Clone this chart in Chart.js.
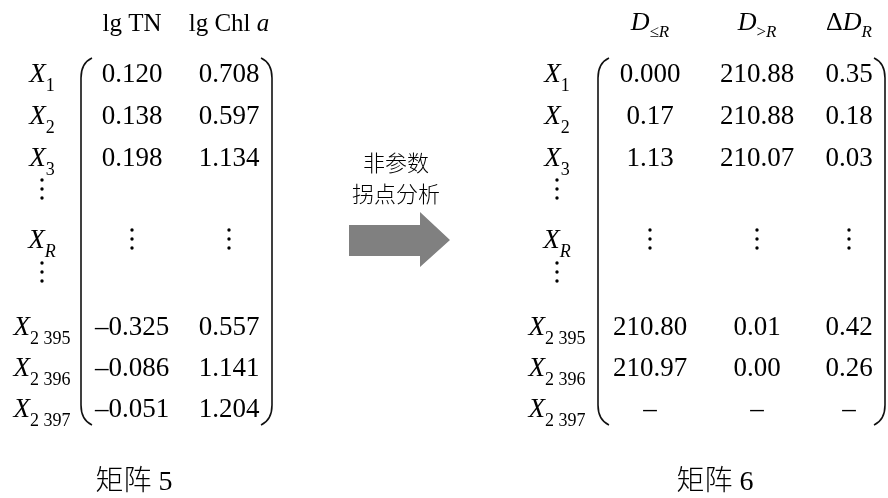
<!DOCTYPE html>
<html>
<head>
<meta charset="utf-8">
<script src="https://cdn.jsdelivr.net/npm/chart.js@4.4.0/dist/chart.umd.min.js"></script>
<style>
  html, body { margin: 0; padding: 0; background: #fff; }
  #wrap { width: 888px; height: 498px; }
</style>
</head>
<body>
<div id="wrap"><canvas id="matrix"></canvas></div>
<script>
// --- data (text between $..$ is italic, text after "_" is a subscript) ---
const rowLabels = ["$X$_1", "$X$_2", "$X$_3", "⋮", "$X$_$R$", "⋮", "$X$_2 395", "$X$_2 396", "$X$_2 397"];

const m5Headers = ["lg TN", "lg Chl $a$"];
const lgTN   = ["0.120", "0.138", "0.198", "", "⋮", "", "–0.325", "–0.086", "–0.051"];
const lgChla = ["0.708", "0.597", "1.134", "", "⋮", "", "0.557", "1.141", "1.204"];

const m6Headers = ["$D$_≤$R$", "$D$_>$R$", "Δ$D$_$R$"];
const dLeR   = ["0.000", "0.17", "1.13", "", "⋮", "", "210.80", "210.97", "–"];
const dGtR   = ["210.88", "210.88", "210.07", "", "⋮", "", "0.01", "0.00", "–"];
const deltaD = ["0.35", "0.18", "0.03", "", "⋮", "", "0.42", "0.26", "–"];

const arrowText = ["非参数", "拐点分析"];
const captions = ["矩阵 5", "矩阵 6"];

// --- layout (in canvas units, used through the chart scales) ---
const rowY = [73, 115, 157, 189, 239, 272, 326, 367, 408];
const m5 = { labelX: 42, cols: [132, 229], left: 81, right: 272, headY: 22 };
const m6 = { labelX: 557, cols: [650, 757, 849], left: 598, right: 885, headY: 21 };
const parenTop = 58, parenBottom = 425;
const arrowY = [164, 195];
const arrowX = 396;
const captionY = 480;
const captionX = [134, 715];

const SERIF = '"Liberation Serif", "Times New Roman", serif';
const CJK = '"Noto Sans CJK SC", sans-serif';
const MIXED = '"Liberation Serif", "Noto Sans CJK SC", serif';

const styles = {
    num:     { size: 27, font: SERIF },
    label:   { size: 27, sub: 18, subDy: 9, font: SERIF },
    head5:   { size: 25, sub: 17, subDy: 7, font: SERIF },
    head6:   { size: 26, sub: 17, subDy: 7, font: SERIF },
    cjk:     { size: 22, weight: 300, font: CJK },
    caption: { size: 28, weight: 300, font: MIXED }
};

function parseRuns(markup) {
    const i = markup.indexOf("_");
    const parts = i < 0 ? [markup] : [markup.slice(0, i), markup.slice(i + 1)];
    const runs = [];
    parts.forEach((p, k) => {
        p.split("$").forEach((t, j) => {
            if (t) runs.push({ t, italic: j % 2 === 1, sub: k === 1 });
        });
    });
    return runs;
}

function runFont(st, r) {
    const size = r.sub ? st.sub : st.size;
    return (r.italic ? "italic " : "") + (st.weight || 400) + " " + size + "px " + st.font;
}

function drawVdots(ctx, x, y) {
    ctx.beginPath();
    [-9, 0, 9].forEach(d => {
        ctx.moveTo(x + 1.7, y + d);
        ctx.arc(x, y + d, 1.7, 0, Math.PI * 2);
    });
    ctx.fill();
}

function drawRich(ctx, markup, cx, cy, st) {
    if (!markup) return;
    if (markup === "⋮") return drawVdots(ctx, cx, cy);
    const runs = parseRuns(markup);
    let total = 0;
    runs.forEach(r => {
        ctx.font = runFont(st, r);
        r.w = ctx.measureText(r.t).width;
        total += r.w;
    });
    const base = cy + 0.34 * st.size;
    let x = cx - total / 2;
    ctx.textAlign = "left";
    ctx.textBaseline = "alphabetic";
    runs.forEach(r => {
        ctx.font = runFont(st, r);
        ctx.fillText(r.t, x, base + (r.sub ? st.subDy : 0));
        x += r.w;
    });
}

function column(texts, x, kind) {
    return {
        kind,
        data: texts.map((t, i) => ({ x, y: rowY[i], t })),
        pointRadius: 0,
        showLine: false
    };
}

function row(texts, xs, y, kind) {
    return {
        kind,
        data: texts.map((t, i) => ({ x: xs[i], y, t })),
        pointRadius: 0,
        showLine: false
    };
}

const datasets = [
    column(rowLabels, m5.labelX, "label"),
    column(rowLabels, m6.labelX, "label"),
    column(lgTN, m5.cols[0], "num"),
    column(lgChla, m5.cols[1], "num"),
    column(dLeR, m6.cols[0], "num"),
    column(dGtR, m6.cols[1], "num"),
    column(deltaD, m6.cols[2], "num"),
    row(m5Headers, m5.cols, m5.headY, "head5"),
    row(m6Headers, m6.cols, m6.headY, "head6"),
    {
        kind: "cjk",
        data: arrowText.map((t, i) => ({ x: arrowX, y: arrowY[i], t })),
        pointRadius: 0
    },
    row(captions, captionX, captionY, "caption")
];

const matrixPlugin = {
    id: "matrixText",
    beforeDatasetsDraw(chart) {
        const ctx = chart.ctx;
        const sx = v => chart.scales.x.getPixelForValue(v);
        const sy = v => chart.scales.y.getPixelForValue(v);

        // block arrow
        const arrow = [[349, 225], [420, 225], [420, 212], [450, 240], [420, 267], [420, 256], [349, 256]];
        ctx.save();
        ctx.fillStyle = "#808080";
        ctx.beginPath();
        arrow.forEach(([x, y], i) => (i ? ctx.lineTo(sx(x), sy(y)) : ctx.moveTo(sx(x), sy(y))));
        ctx.closePath();
        ctx.fill();

        // big parentheses
        ctx.strokeStyle = "#111";
        ctx.lineWidth = 1.6;
        const paren = (x, dir) => {
            const t = sy(parenTop), b = sy(parenBottom), px = sx(x), c = 11 * dir;
            ctx.beginPath();
            ctx.moveTo(px + c, t);
            ctx.quadraticCurveTo(px, t + 5, px, t + 20);
            ctx.lineTo(px, b - 20);
            ctx.quadraticCurveTo(px, b - 5, px + c, b);
            ctx.stroke();
        };
        paren(m5.left, 1);
        paren(m5.right, -1);
        paren(m6.left, 1);
        paren(m6.right, -1);
        ctx.restore();
    },
    afterDatasetsDraw(chart) {
        const ctx = chart.ctx;
        ctx.save();
        ctx.fillStyle = "#000";
        chart.data.datasets.forEach((ds, i) => {
            const meta = chart.getDatasetMeta(i);
            meta.data.forEach((pt, j) => drawRich(ctx, ds.data[j].t, pt.x, pt.y, styles[ds.kind]));
        });
        ctx.restore();
    }
};

new Chart(document.getElementById("matrix"), {
    type: "scatter",
    data: { datasets },
    options: {
        responsive: true,
        maintainAspectRatio: false,
        animation: false,
        events: [],
        layout: { padding: 0 },
        plugins: { legend: { display: false }, tooltip: { enabled: false } },
        scales: {
            x: { type: "linear", min: 0, max: 888, display: false },
            y: { type: "linear", min: 0, max: 498, reverse: true, display: false }
        }
    },
    plugins: [matrixPlugin]
});
</script>
</body>
</html>
